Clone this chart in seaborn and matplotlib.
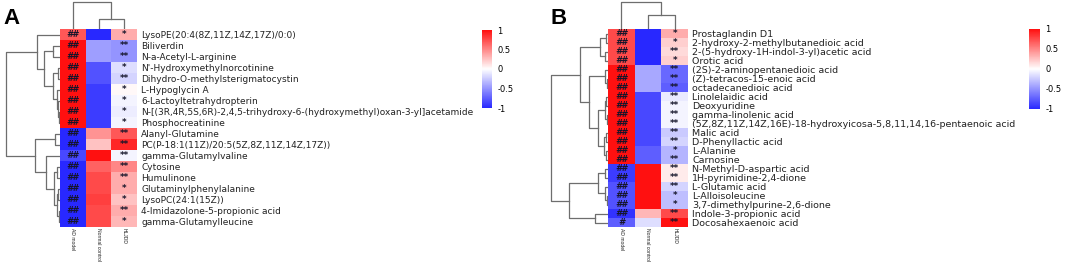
import numpy as np
import pandas as pd
import matplotlib
matplotlib.use("Agg")
import matplotlib.pyplot as plt
import seaborn as sns

groups = ["AD model", "Normal control", "HLJDD"]

# ---- panel A data (display order, top to bottom)
names_a = [
    "LysoPE(20:4(8Z,11Z,14Z,17Z)/0:0)",
    "Biliverdin",
    "N-a-Acetyl-L-arginine",
    "N'-Hydroxymethylnorcotinine",
    "Dihydro-O-methylsterigmatocystin",
    "L-Hypoglycin A",
    "6-Lactoyltetrahydropterin",
    "N-[(3R,4R,5S,6R)-2,4,5-trihydroxy-6-(hydroxymethyl)oxan-3-yl]acetamide",
    "Phosphocreatinine",
    "Alanyl-Glutamine",
    "PC(P-18:1(11Z)/20:5(5Z,8Z,11Z,14Z,17Z))",
    "gamma-Glutamylvaline",
    "Cytosine",
    "Humulinone",
    "Glutaminylphenylalanine",
    "LysoPC(24:1(15Z))",
    "4-Imidazolone-5-propionic acid",
    "gamma-Glutamylleucine",
]
ad_a = [0.7, 1.0, 1.0, 1.0, 1.0, 1.0, 1.0, 1.0, 1.0,
        -1.0, -1.0, -0.85, -1.0, -1.0, -1.0, -1.0, -1.0, -1.0]
nc_a = [-1.0, -0.45, -0.45, -0.8, -0.8, -0.9, -0.9, -0.9, -0.9,
        0.45, 0.25, 1.0, 0.65, 0.75, 0.75, 0.8, 0.75, 0.75]
hl_a = [0.35, -0.5, -0.5, -0.15, -0.2, 0.03, -0.05, -0.08, -0.05,
        0.7, 0.9, -0.05, 0.5, 0.35, 0.35, 0.25, 0.35, 0.3]
sig_ad_a = ["##"] * 18
sig_hl_a = ["*", "**", "**", "*", "**", "*", "*", "*", "*",
            "**", "**", "**", "**", "**", "*", "*", "**", "*"]

# ---- panel B data
names_b = [
    "Prostaglandin D1",
    "2-hydroxy-2-methylbutanedioic acid",
    "2-(5-hydroxy-1H-indol-3-yl)acetic acid",
    "Orotic acid",
    "(2S)-2-aminopentanedioic acid",
    "(Z)-tetracos-15-enoic acid",
    "octadecanedioic acid",
    "Linolelaidic acid",
    "Deoxyuridine",
    "gamma-linolenic acid",
    "(5Z,8Z,11Z,14Z,16E)-18-hydroxyicosa-5,8,11,14,16-pentaenoic acid",
    "Malic acid",
    "D-Phenyllactic acid",
    "L-Alanine",
    "Carnosine",
    "N-Methyl-D-aspartic acid",
    "1H-pyrimidine-2,4-dione",
    "L-Glutamic acid",
    "L-Alloisoleucine",
    "3,7-dimethylpurine-2,6-dione",
    "Indole-3-propionic acid",
    "Docosahexaenoic acid",
]
ad_b = [0.75, 0.75, 0.75, 0.75, 1.0, 1.0, 1.0, 1.0, 1.0, 1.0, 1.0,
        1.0, 1.0, 1.0, 1.0, -0.9, -0.9, -0.8, -0.8, -0.8, -0.95, -0.75]
nc_b = [-1.0, -1.0, -1.0, -1.0, -0.4, -0.4, -0.4, -0.85, -0.85, -0.85, -0.85,
        -0.85, -0.85, -0.75, -0.75, 1.0, 1.0, 1.0, 1.0, 1.0, 0.3, -0.15]
hl_b = [0.35, 0.2, 0.15, 0.2, -0.7, -0.7, -0.75, -0.1, -0.05, -0.05, -0.05,
        -0.25, -0.2, -0.35, -0.35, 0.08, 0.08, -0.2, -0.3, -0.3, 0.75, 1.0]
sig_ad_b = ["##"] * 21 + ["#"]
sig_hl_b = ["*", "*", "**", "*", "**", "**", "**", "**", "**", "**", "**",
            "**", "**", "*", "**", "**", "**", "**", "*", "*", "**", "**"]

# ---- dendrograms (left, right, merge height); leaves = display row index
tree_rows_a = ((0, ((1, 2, 7), ((3, 4, 2), (5, (6, (7, 8, 1), 2), 3), 7), 16), 23),
               ((9, 10, 5), (11, ((12, 13, 3), ((14, 15, 2), (16, 17, 1), 3), 6), 14), 25),
               54)
tree_rows_b = ((((0, 1, 2), (2, 3, 3), 8),
                ((4, (5, 6, 1), 3),
                 (((7, 8, 2), (9, 10, 1), 3), ((11, 12, 2), (13, 14, 2), 4), 10), 19), 28),
               (((15, 16, 3), (17, (18, 19, 1), 3), 10), (20, 21, 13), 39),
               57)
tree_cols_a = (0, (1, 2, 10), 27)
tree_cols_b = (0, (1, 2, 14), 27)

cmap = sns.blend_palette(["#2828ff", "#ffffff", "#ff1010"], as_cmap=True)
W, H = 1065, 265
fig = plt.figure(figsize=(W / 100, H / 100), dpi=100)
plt.rcParams['font.family'] = ['DejaVu Sans']


def box(x0, y0, x1, y1):
    return [x0 / W, 1 - y1 / H, (x1 - x0) / W, (y1 - y0) / H]


def draw_tree(ax, node, rows):
    if isinstance(node, int):
        return node + 0.5, 0.0
    left, right, h = node
    p1, h1 = draw_tree(ax, left, rows)
    p2, h2 = draw_tree(ax, right, rows)
    if rows:
        ax.plot([h1, h, h, h2], [p1, p1, p2, p2], color="#6e6e6e", lw=0.9)
    else:
        ax.plot([p1, p1, p2, p2], [h1, h, h, h2], color="#6e6e6e", lw=0.9)
    return (p1 + p2) / 2, h


def panel(names, ad, nc, hl, sig_ad, sig_hl, tree_r, tree_c, hx, dx0, cbx, cby,
          letter, lx, rowfs):
    df = pd.DataFrame({groups[0]: ad, groups[1]: nc, groups[2]: hl}, index=names)
    ann = pd.DataFrame({groups[0]: sig_ad, groups[1]: [""] * len(names),
                        groups[2]: sig_hl}, index=names)
    n = len(names)
    top, bot = 29, 227
    ax = fig.add_axes(box(hx[0], top, hx[1], bot))
    cax = fig.add_axes(box(cbx[0], cby[0], cbx[1], cby[1]))
    sns.heatmap(df, ax=ax, cmap=cmap, vmin=-1, vmax=1, annot=ann.values, fmt="",
                annot_kws={"fontsize": 6.3, "color": "#15152a", "fontstyle": "italic",
                           "fontweight": "bold"},
                cbar_ax=cax, cbar_kws={"ticks": [-1, -0.5, 0, 0.5, 1]},
                xticklabels=True, yticklabels=True)
    ax.yaxis.tick_right()
    ax.set_yticklabels(names, rotation=0, fontsize=rowfs, color="#222222")
    ax.set_xticklabels(groups, rotation=270, fontsize=3.6, color="#222222",
                       family="Liberation Sans")
    ax.tick_params(axis="y", length=0, pad=3)
    ax.tick_params(axis="x", length=0, pad=1)
    ax.set_xlabel("")
    ax.set_ylabel("")
    cax.tick_params(length=0, labelsize=6, pad=4)
    cax.set_yticklabels(["-1", "-0.5", "0", "0.5", "1"])
    for sp in cax.spines.values():
        sp.set_visible(False)
    cbar = ax.collections[0].colorbar
    if cbar is not None:
        cbar.outline.set_visible(False)

    # row dendrogram
    rax = fig.add_axes(box(dx0, top, hx[0], bot))
    draw_tree(rax, tree_r, True)
    rax.set_xlim(hx[0] - dx0, 0)
    rax.set_ylim(n, 0)
    rax.axis("off")

    # column dendrogram
    cdx = fig.add_axes(box(hx[0], 0, hx[1], top))
    draw_tree(cdx, tree_c, False)
    cdx.set_xlim(0, 3)
    cdx.set_ylim(0, top)
    cdx.axis("off")

    fig.text(lx / W, 1 - 18 / H, letter, fontsize=16, fontweight="bold",
             va="center", ha="left", family="Liberation Sans")


panel(names_a, ad_a, nc_a, hl_a, sig_ad_a, sig_hl_a, tree_rows_a, tree_cols_a,
      (60, 137), 5, (482, 492), (30, 108), "A", 3, 6.5)
panel(names_b, ad_b, nc_b, hl_b, sig_ad_b, sig_hl_b, tree_rows_b, tree_cols_b,
      (608, 688), 550, (1029, 1040), (29, 109), "B", 551, 6.8)

fig.savefig("out.png", dpi=100)
